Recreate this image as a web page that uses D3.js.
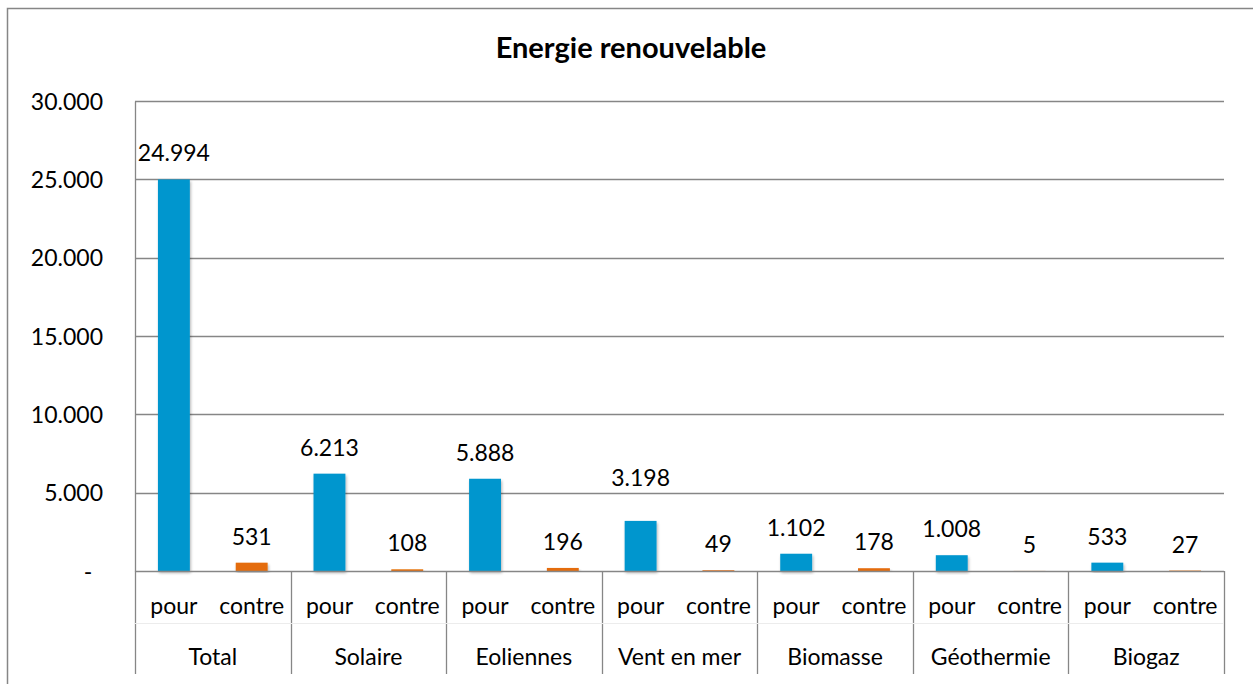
<!DOCTYPE html>
<html><head><meta charset="utf-8">
<script src="https://cdn.jsdelivr.net/npm/d3@7"></script>
<style>
html,body{margin:0;padding:0;background:#fff;}
svg{display:block;font-family:Lato,"Open Sans",sans-serif;}
</style></head>
<body>
<svg id="chart" width="1253" height="684"></svg>
<script>
const categories = ["Total","Solaire","Eoliennes","Vent en mer","Biomasse","Géothermie","Biogaz"];
const subLabels = ["pour","contre"];
const pourValues = [24994, 6213, 5888, 3198, 1102, 1008, 533];
const contreValues = [531, 108, 196, 49, 178, 5, 27];
const yTicks = [0, 5000, 10000, 15000, 20000, 25000, 30000];
const title = "Energie renouvelable";

(function(){
const colors = {pour:"#0096CE", contre:"#E46C0A"};
const svg = d3.select("#chart");
const pLeft = 135, pRight = 1224, pTop = 101, pBase = 571;
const FS = 23;

const fmt = v => v === 0 ? "-" : d3.format(",")(v).replace(/,/g,".");

// outer border
svg.append("rect").attr("x",7.5).attr("y",8.5).attr("width",1260).attr("height",700)
  .attr("fill","none").attr("stroke","#868686").attr("stroke-width",1.5);

const y = d3.scaleLinear().domain([0,30000]).range([pBase, pTop]);
const xCat = d3.scaleBand().domain(categories).range([pLeft,pRight]).padding(0);
const xSub = d3.scaleBand().domain(subLabels).range([0,xCat.bandwidth()]).paddingInner(0.59).paddingOuter(0.295);

// grid
svg.append("g").selectAll("line").data(yTicks.filter(d=>d>0)).join("line")
  .attr("x1",pLeft).attr("x2",pRight).attr("y1",d=>Math.round(y(d))+0.5).attr("y2",d=>Math.round(y(d))+0.5)
  .attr("stroke","#868686").attr("stroke-width",1.3);

// y axis
const yAxis = d3.axisLeft(y).tickValues(yTicks).tickSize(0).tickFormat(fmt);
const gy = svg.append("g").attr("transform",`translate(${pLeft},0)`).call(yAxis);
gy.select(".domain").attr("stroke","#868686").attr("stroke-width",1.3);
gy.selectAll("text").attr("font-size",FS).attr("fill","#000").attr("font-family","Lato")
  .attr("x",-32).attr("dy","0.35em");
gy.selectAll(".tick").filter(d=>d===0).select("text").attr("x",-47).attr("text-anchor","middle");

// data rows
const rows = [];
categories.forEach((c,i)=>{
  rows.push({cat:c, sub:"pour", v:pourValues[i]});
  rows.push({cat:c, sub:"contre", v:contreValues[i]});
});

// shadow filter
const defs = svg.append("defs");
const f = defs.append("filter").attr("id","sh").attr("x","-20%").attr("y","-20%").attr("width","140%").attr("height","140%");
f.append("feGaussianBlur").attr("in","SourceAlpha").attr("stdDeviation",1.5);
f.append("feOffset").attr("dx",1).attr("dy",2).attr("result","ob");
f.append("feComponentTransfer").append("feFuncA").attr("type","linear").attr("slope",0.3);
const m = f.append("feMerge"); m.append("feMergeNode"); m.append("feMergeNode").attr("in","SourceGraphic");

svg.append("g").selectAll("rect").data(rows).join("rect")
  .attr("x",d=>xCat(d.cat)+xSub(d.sub))
  .attr("width",xSub.bandwidth())
  .attr("y",d=>y(d.v))
  .attr("height",d=>pBase-y(d.v))
  .attr("fill",d=>colors[d.sub])
  .attr("filter","url(#sh)");

// x axis line
svg.append("line").attr("x1",pLeft).attr("x2",pRight).attr("y1",pBase+0.5).attr("y2",pBase+0.5)
  .attr("stroke","#868686").attr("stroke-width",1.3);

// data labels
const extraLift = {"Vent en mer|pour":17};
svg.append("g").selectAll("text").data(rows).join("text")
  .attr("x",d=>xCat(d.cat)+xSub(d.sub)+xSub.bandwidth()/2)
  .attr("y",d=>y(d.v)-26-(extraLift[d.cat+"|"+d.sub]||0))
  .attr("dy","0.35em")
  .attr("text-anchor","middle").attr("font-size",FS).attr("fill","#000")
  .text(d=>fmt(d.v));

// category axis: tick separators
const sepX = categories.map(c=>xCat(c)).concat([pRight]);
svg.append("g").selectAll("line").data(sepX).join("line")
  .attr("x1",d=>Math.round(d)+0.5).attr("x2",d=>Math.round(d)+0.5)
  .attr("y1",pBase).attr("y2",674)
  .attr("stroke","#868686").attr("stroke-width",1.3);
// faint level separator
svg.append("line").attr("x1",pLeft).attr("x2",pRight).attr("y1",623.5).attr("y2",623.5)
  .attr("stroke","#ececec").attr("stroke-width",1);

svg.append("g").selectAll("text").data(rows).join("text")
  .attr("x",d=>xCat(d.cat)+xSub(d.sub)+xSub.bandwidth()/2)
  .attr("y",606).attr("dy","0.35em").attr("text-anchor","middle")
  .attr("font-size",FS).attr("fill","#000").text(d=>d.sub);

svg.append("g").selectAll("text").data(categories).join("text")
  .attr("x",d=>xCat(d)+xCat.bandwidth()/2)
  .attr("y",657).attr("dy","0.35em").attr("text-anchor","middle")
  .attr("font-size",FS).attr("fill","#000").text(d=>d);

// title
svg.append("text").attr("x",631).attr("y",48).attr("dy","0.35em").attr("text-anchor","middle")
  .attr("font-size",29).attr("font-weight","bold").attr("fill","#000").text(title);
})();
</script>
</body></html>
